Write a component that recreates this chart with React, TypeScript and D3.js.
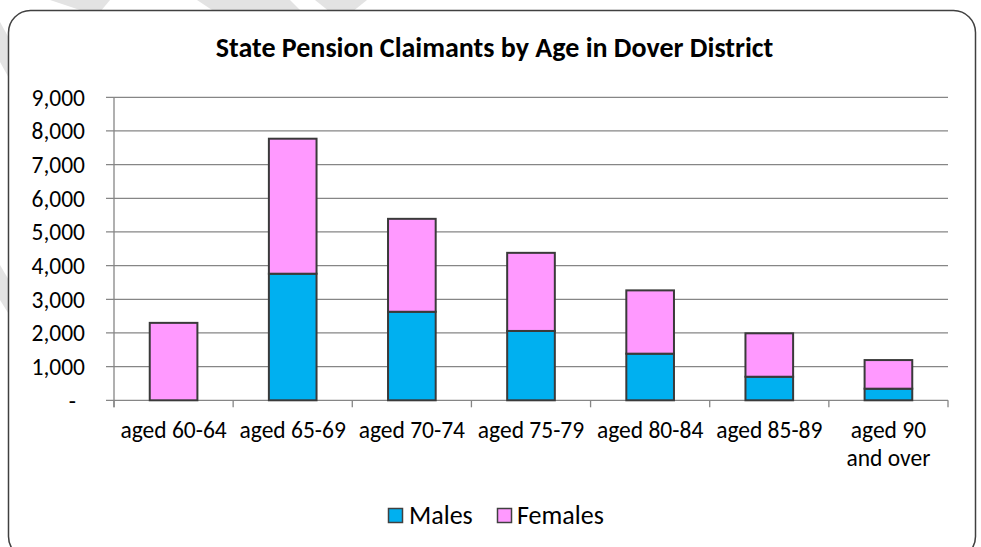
import React, { useEffect, useRef } from 'react';
import * as d3 from 'd3';

const categories = ['aged 60-64', 'aged 65-69', 'aged 70-74', 'aged 75-79', 'aged 80-84', 'aged 85-89', 'aged 90\nand over'];
const males = [0, 3760, 2630, 2060, 1385, 700, 345];
const females = [2300, 4010, 2760, 2320, 1880, 1290, 850];
const seriesNames = ['Males', 'Females'];
const yTicks = [0, 1000, 2000, 3000, 4000, 5000, 6000, 7000, 8000, 9000];

const FONT = 'Calibri, Carlito, Lato, sans-serif';

export default function App() {
  const ref = useRef<SVGSVGElement>(null);

  useEffect(() => {
    const svg = d3.select(ref.current);
    svg.selectAll('*').remove();

    var W = 981, H = 547;
    var margin = { top: 97.3, right: 33, bottom: 147, left: 114 };

    // faint watermark stripes behind the chart box
    const stripes = [
      [[50, 0], [110, 0], [100, 12], [86, 12]],
      [[197, 0], [290, 0], [302, 12], [215, 12]],
      [[315, 0], [367, 0], [352, 12], [330, 12]],
      [[0, 22], [10, 40], [10, 80], [0, 62]],
      [[0, 265], [10, 282], [10, 316], [0, 300]],
    ];
    svg.selectAll('.stripe').data(stripes).join('polygon')
      .attr('class', 'stripe')
      .attr('points', d => d.map(p => p.join(',')).join(' '))
      .attr('fill', '#e3e3e3');

    // chart area box
    svg.append('rect')
      .attr('x', 8.5).attr('y', 10.5)
      .attr('width', 967).attr('height', 548)
      .attr('rx', 22).attr('ry', 22)
      .attr('fill', '#ffffff')
      .attr('stroke', '#404040')
      .attr('stroke-width', 1.5);

    svg.append('text')
      .attr('x', 494.5).attr('y', 57)
      .attr('text-anchor', 'middle')
      .style('font-family', FONT)
      .style('font-weight', 'bold')
      .style('font-size', '28px')
      .text('State Pension Claimants by Age in Dover District');

    const x = d3.scaleBand().domain(categories)
      .range([margin.left, W - margin.right])
      .paddingInner(0.6).paddingOuter(0.3);
    const y = d3.scaleLinear().domain([0, 9000]).range([H - margin.bottom + 0.3, margin.top]);

    const g = svg.append('g');

    // gridlines
    g.selectAll('.grid').data(yTicks).join('line')
      .attr('class', 'grid')
      .attr('x1', margin.left - 8).attr('x2', W - margin.right)
      .attr('y1', d => y(d)).attr('y2', d => y(d))
      .attr('stroke', '#868686').attr('stroke-width', 1.3);

    // y axis line
    g.append('line')
      .attr('x1', margin.left).attr('x2', margin.left)
      .attr('y1', y(9000)).attr('y2', y(0) + 7)
      .attr('stroke', '#868686').attr('stroke-width', 1.3);

    // x ticks at category boundaries
    const bounds = categories.map((c, i) => margin.left + i * x.step()).concat([W - margin.right]);
    g.selectAll('.xtick').data(bounds).join('line')
      .attr('class', 'xtick')
      .attr('x1', d => d).attr('x2', d => d)
      .attr('y1', y(0)).attr('y2', y(0) + 7)
      .attr('stroke', '#868686').attr('stroke-width', 1.3);

    // y labels
    g.selectAll('.ylab').data(yTicks).join('text')
      .attr('class', 'ylab')
      .attr('x', d => d === 0 ? 76 : 85)
      .attr('y', d => y(d))
      .attr('dy', '0.35em')
      .attr('text-anchor', 'end')
      .style('font-family', FONT)
      .style('font-size', '23.5px')
      .text(d => d === 0 ? '-' : d3.format(',')(d));

    // stacked bars
    const rows = categories.map((c, i) => ({ cat: c, Males: males[i], Females: females[i] }));
    const stack = d3.stack<any>().keys(seriesNames)(rows);
    const colors = d3.scaleOrdinal<string>().domain(seriesNames).range(['#00B0F0', '#FF99FF']);

    const layers = g.selectAll('.layer').data(stack).join('g')
      .attr('class', 'layer')
      .attr('fill', d => colors(d.key));
    layers.selectAll('rect').data(d => d.filter(s => s[1] - s[0] > 0)).join('rect')
      .attr('x', d => x(d.data.cat) as number)
      .attr('width', x.bandwidth())
      .attr('y', d => y(d[1]))
      .attr('height', d => y(d[0]) - y(d[1]))
      .attr('stroke', '#3a3a3a')
      .attr('stroke-width', 2);

    // x labels
    const xl = g.selectAll('.xlab').data(categories).join('text')
      .attr('class', 'xlab')
      .attr('text-anchor', 'middle')
      .style('font-family', FONT)
      .style('font-size', '23.5px');
    xl.each(function (d) {
      const lines = d.split('\n');
      const t = d3.select(this);
      lines.forEach((l, i) => {
        t.append('tspan')
          .attr('x', (x(d) as number) + x.bandwidth() / 2)
          .attr('y', 438 + i * 28)
          .text(l);
      });
    });

    // legend
    const legendItems = [
      { name: 'Males', sx: 388, tx: 409 },
      { name: 'Females', sx: 497, tx: 517 },
    ];
    const lg = svg.append('g');
    lg.selectAll('rect').data(legendItems).join('rect')
      .attr('x', d => d.sx + 0.5).attr('y', 508.5)
      .attr('width', 14).attr('height', 14)
      .attr('fill', d => colors(d.name))
      .attr('stroke', '#404040').attr('stroke-width', 1.5);
    lg.selectAll('text').data(legendItems).join('text')
      .attr('x', d => d.tx).attr('y', 524)
      .style('font-family', FONT)
      .style('font-size', '26px')
      .text(d => d.name);
  }, []);

  return (
    <svg ref={ref} width={981} height={547}
      style={{ position: 'absolute', left: 0, top: 0, background: '#ffffff' }} />
  );
}
